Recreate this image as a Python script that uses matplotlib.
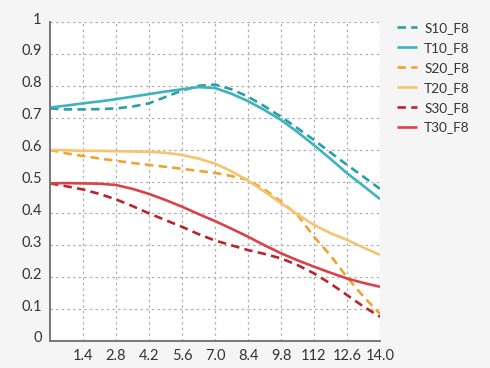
import matplotlib
matplotlib.use("Agg")
import matplotlib.pyplot as plt
import matplotlib.transforms as mtransforms

# spatial frequency positions (mm from center)
x = [0.0, 0.7, 1.4, 2.1, 2.8, 3.5, 4.2, 4.9, 5.6, 6.3, 7.0,
     7.7, 8.4, 9.1, 9.8, 10.5, 11.2, 11.9, 12.6, 13.3, 14.0]

s10 = [0.729, 0.726, 0.726, 0.727, 0.729, 0.735, 0.745, 0.765, 0.785, 0.800, 0.804,
       0.789, 0.766, 0.736, 0.703, 0.667, 0.630, 0.591, 0.552, 0.515, 0.477]
t10 = [0.732, 0.738, 0.745, 0.751, 0.758, 0.766, 0.774, 0.782, 0.789, 0.796, 0.793,
       0.775, 0.752, 0.724, 0.693, 0.655, 0.614, 0.571, 0.526, 0.486, 0.445]
s20 = [0.599, 0.588, 0.580, 0.572, 0.565, 0.558, 0.552, 0.546, 0.540, 0.533, 0.527,
       0.517, 0.505, 0.475, 0.437, 0.395, 0.327, 0.268, 0.200, 0.139, 0.085]
t20 = [0.599, 0.598, 0.596, 0.596, 0.595, 0.594, 0.593, 0.590, 0.583, 0.572, 0.556,
       0.532, 0.503, 0.468, 0.432, 0.397, 0.364, 0.338, 0.317, 0.293, 0.270]
s30 = [0.494, 0.485, 0.475, 0.461, 0.444, 0.423, 0.400, 0.379, 0.358, 0.335, 0.315,
       0.300, 0.285, 0.273, 0.259, 0.238, 0.212, 0.180, 0.144, 0.108, 0.076]
t30 = [0.494, 0.495, 0.494, 0.493, 0.489, 0.477, 0.461, 0.442, 0.421, 0.398, 0.376,
       0.352, 0.327, 0.300, 0.275, 0.253, 0.233, 0.214, 0.196, 0.182, 0.170]

xticks = [1.4, 2.8, 4.2, 5.6, 7.0, 8.4, 9.8, 11.2, 12.6, 14.0]
xticklabels = ["1.4", "2.8", "4.2", "5.6", "7.0", "8.4", "9.8", "112", "12.6", "14.0"]
yticks = [0, 0.1, 0.2, 0.3, 0.4, 0.5, 0.6, 0.7, 0.8, 0.9, 1.0]
yticklabels = ["0", "0.1", "0.2", "0.3", "0.4", "0.5", "0.6", "0.7", "0.8", "0.9", "1"]

plt.rcParams["font.family"] = ["Lato", "DejaVu Sans"]

fig = plt.figure(figsize=(4.9, 3.68), dpi=100)
fig.patch.set_facecolor("#f5f5f5")
ax = fig.add_axes([50 / 490, 27 / 368, 330 / 490, 319 / 368])
ax.set_facecolor("white")

dash = (0, (3.2, 2.0))
series = [
    ("S10_F8", s10, "#2a9fa8", dash),
    ("T10_F8", t10, "#3db3bc", "-"),
    ("S20_F8", s20, "#eda431", dash),
    ("T20_F8", t20, "#f4c56e", "-"),
    ("S30_F8", s30, "#b8262c", dash),
    ("T30_F8", t30, "#d9424a", "-"),
]
for name, ys, col, ls in series:
    ax.plot(x, ys, color=col, linestyle=ls, linewidth=1.9, label=name,
            solid_capstyle="butt", dash_capstyle="butt")

ax.set_xlim(0, 14)
ax.set_ylim(0, 1)
ax.set_xticks(xticks)
ax.set_xticklabels(xticklabels)
ax.set_yticks(yticks)
ax.set_yticklabels(yticklabels)
ax.tick_params(length=0, labelsize=10.5, colors="#333333")
ax.tick_params(axis="y", pad=6)
ax.tick_params(axis="x", pad=6)
for lab in ax.get_yticklabels():
    lab.set_transform(lab.get_transform() +
                      mtransforms.ScaledTranslation(0, 4 / 100, fig.dpi_scale_trans))

ax.grid(True, color="#b0b0b0", linestyle=(0, (2, 2.5)), linewidth=0.9)
for s in ["top", "right"]:
    ax.spines[s].set_visible(False)
for s in ["left", "bottom"]:
    ax.spines[s].set_color("#777777")
    ax.spines[s].set_linewidth(1.4)

fig.legend(loc="upper left", bbox_to_anchor=(397 / 490, 1 - 22 / 368),
           frameon=False, fontsize=9.8, handlelength=1.5, handletextpad=0.5,
           labelspacing=0.58, borderpad=0, borderaxespad=0,
           labelcolor="#333333")

fig.savefig("out.png", dpi=100, facecolor=fig.get_facecolor())
